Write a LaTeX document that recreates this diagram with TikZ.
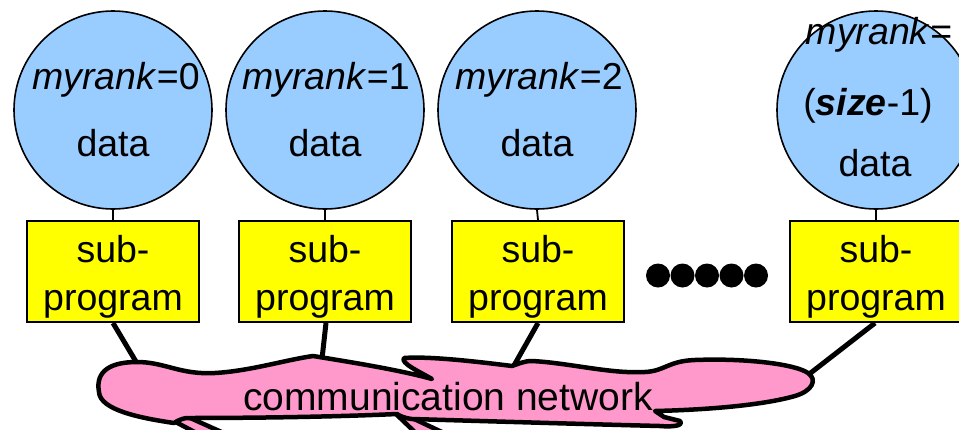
\documentclass[tikz,border=0pt]{standalone}
\usepackage{fontspec}
\setmainfont{Liberation Sans}
\definecolor{cblue}{HTML}{99CCFF}
\definecolor{cyel}{HTML}{FFFF00}
\definecolor{cpink}{HTML}{FF99CC}
\begin{document}
\begin{tikzpicture}[x=1pt,y=-1pt,
  proc/.style={circle,draw=black,line width=1.6pt,fill=cblue,minimum size=198pt,inner sep=0pt},
  txt/.style={font=\fontsize{37.5}{37.5}\selectfont,inner sep=0pt,anchor=base},
  nettxt/.style={font=\fontsize{39}{39}\selectfont,inner sep=0pt,anchor=base},
  subbox/.style={rectangle,draw=black,line width=2pt,fill=cyel,minimum width=172pt,minimum height=101pt,inner sep=0pt},
  stem/.style={line width=1.8pt},
  netlink/.style={line width=5pt},
  blob/.style={draw=black,fill=cpink,line width=4.5pt,line join=round}]
\useasboundingbox (0,0) rectangle (959,429);
\clip (0,0) rectangle (959,429);
% processes (circles)
\node[proc] (c1) at (113,110) {};
\node[proc] (c2) at (325,110) {};
\node[proc] (c3) at (537,110) {};
\node[proc] (c4) at (876,110) {};
% sub-program boxes
\node[subbox] (b1) at (113,271.5) {};
\node[subbox] (b2) at (325,271.5) {};
\node[subbox] (b3) at (538,271.5) {};
\node[subbox] (b4) at (876,271.5) {};
% stems
\draw[stem] (c1.south) -- (b1.north);
\draw[stem] (c2.south) -- (b2.north);
\draw[stem] (c3.south) -- (b3.north);
\draw[stem] (c4.south) -- (b4.north);
% circle texts
\node[txt] (r1) at (116,89) {\textit{myrank}=0};
\node[txt] (d1) at (113,156) {data};
\node[txt] (r2) at (326,89) {\textit{myrank}=1};
\node[txt] (d2) at (325,156) {data};
\node[txt] (r3) at (539,89) {\textit{myrank}=2};
\node[txt] (d3) at (537,156) {data};
\node[txt] (r4) at (879,44) {\textit{myrank}=};
\node[txt] (z4) at (868,115) {(\textbf{\textit{size}}-1)};
\node[txt] (d4) at (875,176) {data};
% box texts
\node[txt] (s1) at (113,262) {sub-};
\node[txt] (p1) at (113,310) {program};
\node[txt] (s2) at (325,262) {sub-};
\node[txt] (p2) at (325,310) {program};
\node[txt] (s3) at (538,262) {sub-};
\node[txt] (p3) at (538,310) {program};
\node[txt] (s4) at (876,262) {sub-};
\node[txt] (p4) at (876,310) {program};
% dots
\foreach \k in {0,...,4} \fill (658+24.5*\k,275.5) circle (12pt);
% attachment points on the network
\coordinate (n1) at (138,365);
\coordinate (n2) at (322,359);
\coordinate (n3) at (512,369);
\coordinate (n4) at (808,375);
\draw[netlink] (b1.south) -- (n1);
\draw[netlink] ([xshift=1pt]b2.south) -- (n2);
\draw[netlink] (b3.south) -- (n3);
\draw[netlink] ([xshift=-1pt]b4.south) -- (n4);
% lower folds of the network shape (cut by the picture edge)
\path[blob] (170,419) -- (188,417) -- (226,434) -- (204,437) -- cycle;
\path[blob] (396,414) -- (412,418) -- (444,433) -- (420,437) -- cycle;
% communication network blob
\path[blob] (99,392) .. controls (95,370) and (112,362) .. (137,362)
  .. controls (165,362) and (180,375) .. (215,373)
  .. controls (250,371) and (285,360) .. (313,356)
  .. controls (350,362) and (400,370) .. (432,379)
  .. controls (420,372) and (400,363) .. (404,358)
  .. controls (430,356) and (480,362) .. (512,366)
  .. controls (518,364) and (524,361) .. (532,361)
  .. controls (570,363) and (610,374) .. (645,372)
  .. controls (665,371) and (668,361) .. (695,360)
  .. controls (745,358) and (795,364) .. (808,373)
  .. controls (818,380) and (812,391) .. (795,396)
  .. controls (760,406) and (700,410) .. (655,411)
  -- (664,417) -- (680,421)
  .. controls (684,426) and (672,427) .. (660,426)
  .. controls (580,424) and (480,421) .. (412,419)
  .. controls (404,418) and (400,416) .. (397,414)
  .. controls (330,417) and (250,418) .. (186,418)
  .. controls (181,419) and (177,421) .. (174,423)
  .. controls (140,418) and (100,410) .. cycle;
\node[nettxt] (net) at (448,410) {communication network};
\end{tikzpicture}
\end{document}
